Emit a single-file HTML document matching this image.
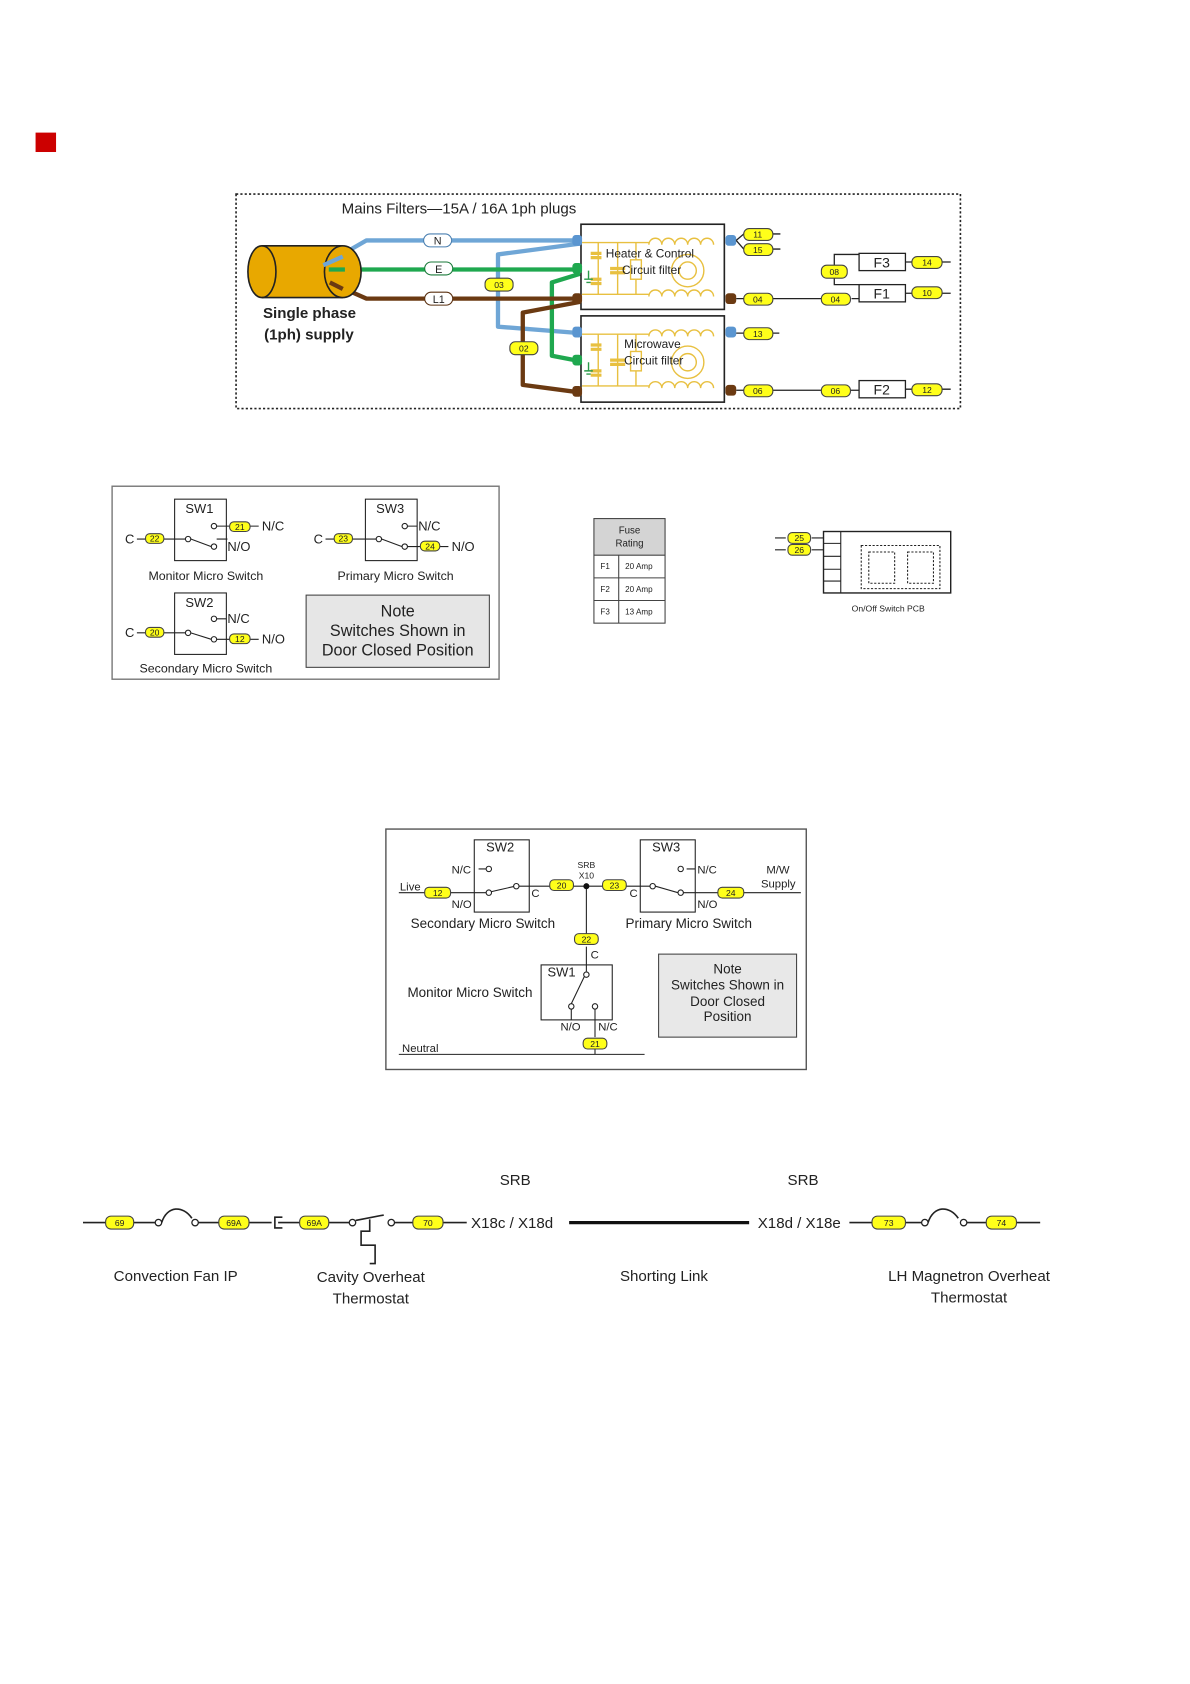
<!DOCTYPE html>
<html><head><meta charset="utf-8"><style>
html,body{margin:0;padding:0;background:#fff;}
svg{display:block;}
text{font-family:"Liberation Sans",Arial,sans-serif;fill:#222;}
.p rect{fill:#ffff1a;stroke:#444;stroke-width:1;}
.p text{font-size:8px;text-anchor:middle;}
</style></head><body>
<svg width="1190" height="1684" viewBox="0 0 1104 1562" preserveAspectRatio="none" xmlns="http://www.w3.org/2000/svg">
<defs>
<g id="flt" fill="none" stroke="#e8c040" stroke-width="1.3">
<path d="M0 14H62M0 62H62M15 14V62M33 14V62M50 14V62"/>
<rect x="45" y="30" width="10" height="18" fill="#fff"/>
<path d="M8 24h10M8 28h10M8 48h10M8 52h10M26 38h14M26 42h14" stroke-width="3"/>
<path d="M62 16a6 6 0 0 1 12 0a6 6 0 0 1 12 0a6 6 0 0 1 12 0a6 6 0 0 1 12 0a6 6 0 0 1 12 0"/>
<path d="M62 64a6 6 0 0 1 12 0a6 6 0 0 1 12 0a6 6 0 0 1 12 0a6 6 0 0 1 12 0a6 6 0 0 1 12 0"/>
<circle cx="98" cy="40" r="15"/><circle cx="98" cy="40" r="8"/>
<path d="M6 40v8M2 48h8M4 51h4" stroke="#2a9a4a"/>
</g>
</defs>

<rect x="33" y="123" width="19" height="18" fill="#cc0000"/>

<!-- Section 1 -->
<rect x="219" y="180" width="672" height="199" fill="none" stroke="#222" stroke-width="1.5" stroke-dasharray="2,2"/>
<text x="317" y="198" font-size="14">Mains Filters—15A / 16A 1ph plugs</text>

<!-- wires -->
<g fill="none" stroke-width="4" stroke-linejoin="round">
<path d="M300 246L340 223H538" stroke="#6fa6d6"/>
<path d="M538 226L462 236V303L538 309" stroke="#6fa6d6"/>
<path d="M305 250H538" stroke="#1fa84f"/>
<path d="M538 254L512 262V330L538 335" stroke="#1fa84f"/>
<path d="M306 262L340 277H538" stroke="#6b3a12"/>
<path d="M538 280L485 290V357L538 364" stroke="#6b3a12"/>
</g>
<g fill="#fff" stroke-width="1">
<rect x="393" y="217" width="26" height="12" rx="6" stroke="#4a7fb0"/>
<rect x="394" y="243" width="26" height="12" rx="6" stroke="#1a7a3a"/>
<rect x="394" y="271" width="26" height="12" rx="6" stroke="#5a3010"/>
</g>
<text x="406" y="227" font-size="10" text-anchor="middle">N</text>
<text x="407" y="253" font-size="10" text-anchor="middle">E</text>
<text x="407" y="281" font-size="10" text-anchor="middle">L1</text>

<!-- cylinder -->
<path d="M243 228H318V276H243Z" fill="#e8a800"/>
<ellipse cx="243" cy="252" rx="13" ry="24" fill="#e8a800" stroke="#222" stroke-width="1.5"/>
<path d="M243 228H318M243 276H318" stroke="#222" stroke-width="1.5"/>
<ellipse cx="318" cy="252" rx="17" ry="24" fill="#e8a800" stroke="#222" stroke-width="1.5"/>
<path d="M300 246L318 238" stroke="#6fa6d6" stroke-width="4"/>
<path d="M305 250H320" stroke="#1fa84f" stroke-width="4"/>
<path d="M306 262L318 268" stroke="#6b3a12" stroke-width="4"/>
<text x="244" y="295" font-size="14" font-weight="bold">Single phase</text>
<text x="245" y="315" font-size="14" font-weight="bold">(1ph) supply</text>

<!-- filter boxes -->
<rect x="539" y="208" width="133" height="79" fill="#fff" stroke="#222" stroke-width="1.5"/>
<use href="#flt" x="540" y="211"/>
<rect x="539" y="293" width="133" height="80" fill="#fff" stroke="#222" stroke-width="1.5"/>
<use href="#flt" x="540" y="296"/>
<text x="562" y="239" font-size="11">Heater &amp; Control</text>
<text x="577" y="254" font-size="11">Circuit filter</text>
<text x="579" y="323" font-size="11">Microwave</text>
<text x="579" y="338" font-size="11">Circuit filter</text>
<!-- connector stubs -->
<g>
<rect x="531" y="218" width="9" height="10" rx="3" fill="#5a95d0"/>
<rect x="531" y="244" width="9" height="10" rx="3" fill="#1fa84f"/>
<rect x="531" y="272" width="9" height="10" rx="3" fill="#6b3a12"/>
<rect x="531" y="303" width="9" height="10" rx="3" fill="#5a95d0"/>
<rect x="531" y="329" width="9" height="10" rx="3" fill="#1fa84f"/>
<rect x="531" y="358" width="9" height="10" rx="3" fill="#6b3a12"/>
<rect x="673" y="218" width="10" height="10" rx="3" fill="#5a95d0"/>
<rect x="673" y="272" width="10" height="10" rx="3" fill="#6b3a12"/>
<rect x="673" y="303" width="10" height="10" rx="3" fill="#5a95d0"/>
<rect x="673" y="357" width="10" height="10" rx="3" fill="#6b3a12"/>
</g>
<g stroke="#222" stroke-width="1.2" fill="none">
<path d="M683 223L690 217M683 223L690 231M717 217h7M717 231h7"/>
<path d="M683 277h7M717 277H762M790 277h7M840 272h6M874 272h8"/>
<path d="M774 246V236H797M774 258V264H797M840 243h6M874 243h8"/>
<path d="M683 309h7M717 309h6"/>
<path d="M683 362h7M717 362H762M789 362h8M840 361h6M874 361h8"/>
</g>
<g class="p">
<g><rect x="690" y="212" width="27" height="11" rx="5"/><text x="703" y="220.5">11</text></g>
<g><rect x="690" y="226" width="27" height="11" rx="5"/><text x="703" y="234.5">15</text></g>
<g><rect x="690" y="272" width="27" height="11" rx="5"/><text x="703" y="280.5">04</text></g>
<g><rect x="762" y="272" width="27" height="11" rx="5"/><text x="775" y="280.5">04</text></g>
<g><rect x="762" y="246" width="24" height="12" rx="5"/><text x="774" y="255">08</text></g>
<g><rect x="846" y="238" width="28" height="11" rx="5"/><text x="860" y="246.5">14</text></g>
<g><rect x="846" y="266" width="28" height="11" rx="5"/><text x="860" y="274.5">10</text></g>
<g><rect x="690" y="304" width="27" height="11" rx="5"/><text x="703" y="312.5">13</text></g>
<g><rect x="690" y="357" width="27" height="11" rx="5"/><text x="703" y="365.5">06</text></g>
<g><rect x="762" y="357" width="27" height="11" rx="5"/><text x="775" y="365.5">06</text></g>
<g><rect x="846" y="356" width="28" height="11" rx="5"/><text x="860" y="364.5">12</text></g>
<g><rect x="450" y="258" width="26" height="12" rx="5"/><text x="463" y="267">03</text></g>
<g><rect x="473" y="317" width="26" height="12" rx="5"/><text x="486" y="326">02</text></g>
</g>
<g fill="#fff" stroke="#222" stroke-width="1.2">
<rect x="797" y="235" width="43" height="16"/><rect x="797" y="264" width="43" height="16"/><rect x="797" y="353" width="43" height="16"/>
</g>
<text x="818" y="248" font-size="13" text-anchor="middle">F3</text>
<text x="818" y="277" font-size="13" text-anchor="middle">F1</text>
<text x="818" y="366" font-size="13" text-anchor="middle">F2</text>

<!-- Section 2 -->
<rect x="104" y="451" width="359" height="179" fill="#fff" stroke="#777" stroke-width="1.3"/>
<g fill="none" stroke="#222" stroke-width="1">
<rect x="162" y="463" width="48" height="57"/>
<rect x="339" y="463" width="48" height="57"/>
<rect x="162" y="550" width="48" height="57"/>
</g>
<g stroke="#222" stroke-width="1" fill="#fff">
<!-- SW1 -->
<path d="M127 500h8M152 500H172M177 500L196 507M201 488h12M232 488h8M201 500h10" fill="none"/>
<circle cx="174.5" cy="500" r="2.5"/><circle cx="198.5" cy="488" r="2.5"/><circle cx="198.5" cy="507" r="2.5"/>
<!-- SW3 -->
<path d="M302 500h8M327 500H349M354 500L373 507M378 488h9M378 507h12M408 507h8" fill="none"/>
<circle cx="351.5" cy="500" r="2.5"/><circle cx="375.5" cy="488" r="2.5"/><circle cx="375.5" cy="507" r="2.5"/>
<!-- SW2 -->
<path d="M127 587h8M152 587H172M177 587L196 593M201 574h9M201 593h12M232 593h8" fill="none"/>
<circle cx="174.5" cy="587" r="2.5"/><circle cx="198.5" cy="574" r="2.5"/><circle cx="198.5" cy="593" r="2.5"/>
</g>
<g class="p">
<g><rect x="135" y="495" width="17" height="9" rx="4"/><text x="143.5" y="502.5" font-size="7">22</text></g>
<g><rect x="213" y="484" width="19" height="9" rx="4"/><text x="222.5" y="491.5" font-size="7">21</text></g>
<g><rect x="310" y="495" width="17" height="9" rx="4"/><text x="318.5" y="502.5" font-size="7">23</text></g>
<g><rect x="390" y="502" width="18" height="9" rx="4"/><text x="399" y="509.5" font-size="7">24</text></g>
<g><rect x="135" y="582" width="17" height="9" rx="4"/><text x="143.5" y="589.5" font-size="7">20</text></g>
<g><rect x="213" y="588" width="19" height="9" rx="4"/><text x="222.5" y="595.5" font-size="7">12</text></g>
</g>
<g font-size="12">
<text x="172" y="476">SW1</text><text x="349" y="476">SW3</text><text x="172" y="563">SW2</text>
<text x="116" y="504">C</text><text x="291" y="504">C</text><text x="116" y="591">C</text>
<text x="243" y="492">N/C</text><text x="211" y="511">N/O</text>
<text x="388" y="492">N/C</text><text x="419" y="511">N/O</text>
<text x="211" y="578">N/C</text><text x="243" y="597">N/O</text>
</g>
<g font-size="11.5" text-anchor="middle">
<text x="191" y="538">Monitor Micro Switch</text>
<text x="367" y="538">Primary Micro Switch</text>
<text x="191" y="624">Secondary Micro Switch</text>
</g>
<rect x="284" y="552" width="170" height="67" fill="#e6e6e6" stroke="#444" stroke-width="1"/>
<g font-size="15" text-anchor="middle">
<text x="369" y="572">Note</text><text x="369" y="590">Switches Shown in</text><text x="369" y="608">Door Closed Position</text>
</g>

<!-- fuse table -->
<rect x="551" y="481" width="66" height="34" fill="#d4d4d4"/>
<g fill="none" stroke="#444" stroke-width="1">
<rect x="551" y="481" width="66" height="97"/>
<path d="M551 515H617M551 536H617M551 557H617M574 515V578"/>
</g>
<g font-size="9" text-anchor="middle"><text x="584" y="495">Fuse</text><text x="584" y="507">Rating</text></g>
<g font-size="7.5">
<text x="557" y="528">F1</text><text x="580" y="528">20 Amp</text>
<text x="557" y="549">F2</text><text x="580" y="549">20 Amp</text>
<text x="557" y="570">F3</text><text x="580" y="570">13 Amp</text>
</g>

<!-- PCB -->
<rect x="764" y="493" width="118" height="57" fill="#fff" stroke="#222" stroke-width="1.3"/>
<g fill="none" stroke="#222" stroke-width="1">
<path d="M780 493V550M764 504H780M764 516H780M764 528H780M764 539H780"/>
<path d="M719 499h10M719 510h10M753 499h11M753 510h11"/>
<g stroke-dasharray="2,1.5"><rect x="799" y="506" width="73" height="40"/><rect x="806" y="512" width="24" height="29"/><rect x="842" y="512" width="24" height="29"/></g>
</g>
<g class="p">
<g><rect x="731" y="494" width="21" height="10" rx="4"/><text x="741.5" y="502" font-size="7">25</text></g>
<g><rect x="731" y="505" width="21" height="10" rx="4"/><text x="741.5" y="513" font-size="7">26</text></g>
</g>
<text x="824" y="567" font-size="8" text-anchor="middle">On/Off Switch PCB</text>

<!-- Section 3 -->
<rect x="358" y="769" width="390" height="223" fill="#fff" stroke="#555" stroke-width="1.3"/>
<g fill="none" stroke="#222" stroke-width="1">
<rect x="440" y="779" width="51" height="67"/>
<rect x="594" y="779" width="51" height="67"/>
<rect x="502" y="895" width="66" height="51"/>
<rect x="611" y="885" width="128" height="77" fill="#e8e8e8" stroke="#444"/>
<path d="M370 828H394M418 828H451M456 827L478 822M481 822H510M532 822H559M581 822H603M608 822L629 828M634 828H666M690 828H743"/>
<path d="M444 806H451M637 806H645"/>
<path d="M544 822V866M544 878V901M542 906L530 931M530 936V946M552 936V962M552 973V978"/>
<path d="M370 978H598"/>
</g>
<g fill="#fff" stroke="#222" stroke-width="1">
<circle cx="453.5" cy="806" r="2.5"/><circle cx="453.5" cy="828" r="2.5"/><circle cx="479" cy="822" r="2.5"/>
<circle cx="605.5" cy="822" r="2.5"/><circle cx="631.5" cy="806" r="2.5"/><circle cx="631.5" cy="828" r="2.5"/>
<circle cx="544" cy="904" r="2.5"/><circle cx="530" cy="933.5" r="2.5"/><circle cx="552" cy="933.5" r="2.5"/>
</g>
<circle cx="544" cy="822" r="2.8" fill="#111"/>
<g class="p">
<g><rect x="394" y="823" width="24" height="10" rx="4"/><text x="406" y="831" font-size="7">12</text></g>
<g><rect x="510" y="816" width="22" height="10" rx="4"/><text x="521" y="824" font-size="7">20</text></g>
<g><rect x="559" y="816" width="22" height="10" rx="4"/><text x="570" y="824" font-size="7">23</text></g>
<g><rect x="666" y="823" width="24" height="10" rx="4"/><text x="678" y="831" font-size="7">24</text></g>
<g><rect x="533" y="866" width="22" height="10" rx="4"/><text x="544" y="874" font-size="7">22</text></g>
<g><rect x="541" y="963" width="22" height="10" rx="4"/><text x="552" y="971" font-size="7">21</text></g>
</g>
<g font-size="12">
<text x="451" y="790">SW2</text><text x="605" y="790">SW3</text><text x="508" y="906">SW1</text>
</g>
<g font-size="10.5">
<text x="371" y="826">Live</text>
<text x="419" y="810">N/C</text><text x="419" y="842">N/O</text><text x="493" y="832">C</text>
<text x="584" y="832">C</text><text x="647" y="810">N/C</text><text x="647" y="842">N/O</text>
<text x="711" y="810">M/W</text><text x="706" y="823">Supply</text>
<text x="548" y="889">C</text>
<text x="520" y="956">N/O</text><text x="555" y="956">N/C</text>
<text x="373" y="976">Neutral</text>
</g>
<g font-size="8" text-anchor="middle"><text x="544" y="805">SRB</text><text x="544" y="815">X10</text></g>
<g font-size="12.5" text-anchor="middle">
<text x="448" y="861">Secondary Micro Switch</text>
<text x="639" y="861">Primary Micro Switch</text>
<text x="436" y="925">Monitor Micro Switch</text>
<text x="675" y="903">Note</text><text x="675" y="918">Switches Shown in</text><text x="675" y="933">Door Closed</text><text x="675" y="947">Position</text>
</g>

<!-- Section 4 -->
<g fill="none" stroke="#222" stroke-width="1.5">
<path d="M77 1134H98M124 1134H144M184 1134H203M231 1134H252M258 1134H278M305 1134H324M330 1132L356 1127M366 1134H383M411 1134H433"/>
<path d="M150 1134C155 1118 170 1118 178 1130"/>
<path d="M262 1129H255V1139H262"/>
<path d="M343 1131V1142H335V1155H348V1172H343"/>
<path d="M840 1134H855M897 1134H915M943 1134H965"/>
<path d="M861 1134C866 1118 881 1118 889 1130"/>
<path d="M788 1134H809"/>
</g>
<path d="M528 1134H695" stroke="#111" stroke-width="3"/>
<g fill="#fff" stroke="#222" stroke-width="1.2">
<circle cx="147" cy="1134" r="3"/><circle cx="181" cy="1134" r="3"/>
<circle cx="327" cy="1134" r="3"/><circle cx="363" cy="1134" r="3"/>
<circle cx="858" cy="1134" r="3"/><circle cx="894" cy="1134" r="3"/>
</g>
<g class="p">
<g><rect x="98" y="1128" width="26" height="12" rx="5"/><text x="111" y="1137" font-size="9">69</text></g>
<g><rect x="203" y="1128" width="28" height="12" rx="5"/><text x="217" y="1137" font-size="9">69A</text></g>
<g><rect x="278" y="1128" width="27" height="12" rx="5"/><text x="291.5" y="1137" font-size="9">69A</text></g>
<g><rect x="383" y="1128" width="28" height="12" rx="5"/><text x="397" y="1137" font-size="9">70</text></g>
<g><rect x="809" y="1128" width="31" height="12" rx="5"/><text x="824.5" y="1137" font-size="9">73</text></g>
<g><rect x="915" y="1128" width="28" height="12" rx="5"/><text x="929" y="1137" font-size="9">74</text></g>
</g>
<g font-size="14">
<text x="437" y="1139">X18c / X18d</text>
<text x="703" y="1139">X18d / X18e</text>
</g>
<g font-size="14" text-anchor="middle">
<text x="478" y="1099">SRB</text><text x="745" y="1099">SRB</text>
<text x="163" y="1188">Convection Fan IP</text>
<text x="344" y="1189">Cavity Overheat</text><text x="344" y="1209">Thermostat</text>
<text x="616" y="1188">Shorting Link</text>
<text x="899" y="1188">LH Magnetron Overheat</text><text x="899" y="1208">Thermostat</text>
</g>
</svg>
</body></html>
